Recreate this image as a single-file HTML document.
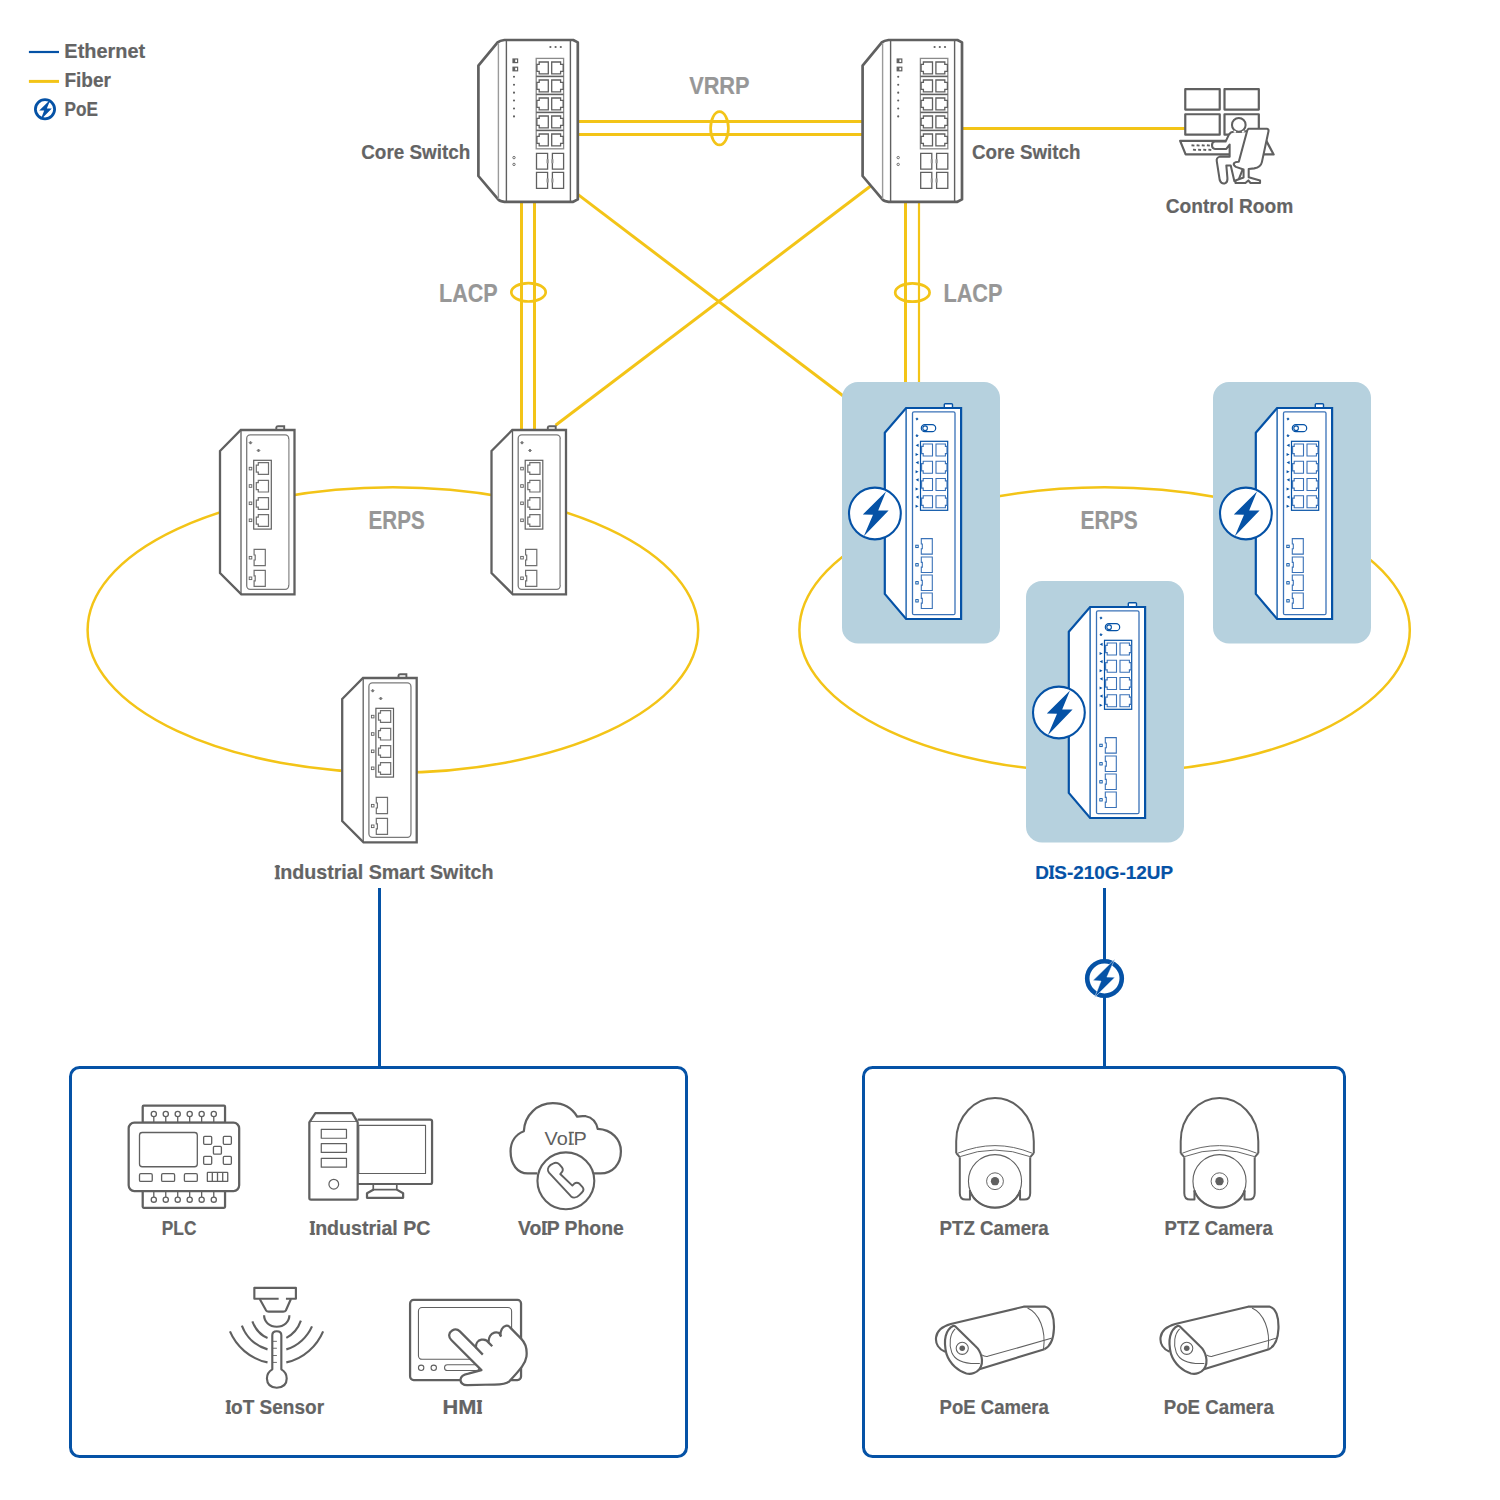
<!DOCTYPE html>
<html><head><meta charset="utf-8"><style>
html,body{margin:0;padding:0;background:#fff;}
svg{display:block;font-family:"Liberation Sans",sans-serif;}
</style></head><body>
<svg width="1500" height="1500" viewBox="0 0 1500 1500">
<rect width="1500" height="1500" fill="#fff"/>
<defs><g id="core"><path d="M0 25.6 L19.2 2.4 Q21.5 0.6 26 0 H94.8 L99.4 2.4 V159.4 L94.8 161.8 H26 Q21.5 161.2 20 159.6 L0 136 Z" fill="#fff" stroke="#606060" stroke-width="2.7" stroke-linejoin="round"/><path d="M20 3 V159" stroke="#9a9a9a" stroke-width="1.4" fill="none"/><path d="M28 0.5 V161.3 M92 0.5 V161.3" stroke="#606060" stroke-width="1.4" fill="none"/><circle cx="72" cy="7" r="1.1" fill="#606060"/><circle cx="77.2" cy="7" r="1.1" fill="#606060"/><circle cx="82.4" cy="7" r="1.1" fill="#606060"/><rect x="34.6" y="19.0" width="4.6" height="3.6" fill="#fff" stroke="#606060" stroke-width="1.2"/><rect x="34.6" y="19.0" width="2.2" height="3.6" fill="#606060"/><rect x="34.6" y="27.2" width="4.6" height="3.6" fill="#fff" stroke="#606060" stroke-width="1.2"/><rect x="34.6" y="27.2" width="2.2" height="3.6" fill="#606060"/><circle cx="35.6" cy="36.80" r="1.05" fill="#606060"/><circle cx="35.6" cy="44.72" r="1.05" fill="#606060"/><circle cx="35.6" cy="52.64" r="1.05" fill="#606060"/><circle cx="35.6" cy="60.56" r="1.05" fill="#606060"/><circle cx="35.6" cy="68.48" r="1.05" fill="#606060"/><circle cx="35.6" cy="76.40" r="1.05" fill="#606060"/><rect x="57.80000000000007" y="18.4" width="27.4" height="90.4" fill="none" stroke="#8a8a8a" stroke-width="1.3"/><path d="M60.80 22.00 H69.90 V33.80 H60.80 V31.44 H58.50 V24.36 H60.80 Z M82.20 22.00 H73.30 V33.80 H82.20 V31.44 H84.80 V24.36 H82.20 Z M60.80 40.00 H69.90 V51.80 H60.80 V49.44 H58.50 V42.36 H60.80 Z M82.20 40.00 H73.30 V51.80 H82.20 V49.44 H84.80 V42.36 H82.20 Z M60.80 58.00 H69.90 V69.80 H60.80 V67.44 H58.50 V60.36 H60.80 Z M82.20 58.00 H73.30 V69.80 H82.20 V67.44 H84.80 V60.36 H82.20 Z M60.80 76.00 H69.90 V87.80 H60.80 V85.44 H58.50 V78.36 H60.80 Z M82.20 76.00 H73.30 V87.80 H82.20 V85.44 H84.80 V78.36 H82.20 Z M60.80 94.00 H69.90 V105.80 H60.80 V103.44 H58.50 V96.36 H60.80 Z M82.20 94.00 H73.30 V105.80 H82.20 V103.44 H84.80 V96.36 H82.20 Z" fill="none" stroke="#606060" stroke-width="1.3"/><path d="M57.80000000000007 36.40 H85.20000000000005" stroke="#606060" stroke-width="1.6"/><path d="M57.80000000000007 54.40 H85.20000000000005" stroke="#606060" stroke-width="1.6"/><path d="M57.80000000000007 72.40 H85.20000000000005" stroke="#606060" stroke-width="1.6"/><path d="M57.80000000000007 90.40 H85.20000000000005" stroke="#606060" stroke-width="1.6"/><path d="M58.10000000000002 113.4 H69.20000000000005 V129.2 H58.10000000000002 Z M74.0 113.4 H85.20000000000005 V129.2 H74.0 Z M58.10000000000002 132.4 H69.20000000000005 V148.4 H58.10000000000002 Z M74.0 132.4 H85.20000000000005 V148.4 H74.0 Z" fill="none" stroke="#606060" stroke-width="1.3"/><path d="M69.20000000000005 119.30 V123.30 M74.0 119.30 V123.30" stroke="#999" stroke-width="2.2"/><path d="M69.20000000000005 138.40 V142.40 M74.0 138.40 V142.40" stroke="#999" stroke-width="2.2"/><circle cx="35.6" cy="117.60" r="1.2" fill="none" stroke="#606060" stroke-width="0.9"/><circle cx="35.6" cy="124.40" r="1.2" fill="none" stroke="#606060" stroke-width="0.9"/></g><g id="small"><path d="M56.3 0 V-2.6 Q56.5 -3.8 58 -3.8 H64.2 V0" fill="#fff" stroke="#606060" stroke-width="1.9"/><path d="M0 21 L20.8 0 H74.5 V164.3 H21.3 L0 143 Z" fill="#fff" stroke="#606060" stroke-width="2.3" stroke-linejoin="miter"/><path d="M21 0.5 V164" stroke="#606060" stroke-width="1.3"/><rect x="26.7" y="4.9" width="42" height="154.4" rx="3.5" fill="none" stroke="#7a7a7a" stroke-width="1.3"/><path d="M68.7 9 V155" stroke="#aaa" stroke-width="1.3"/><path d="M29.0 12.7 L30.5 11.2 L32.0 12.7 L30.5 14.2 Z" fill="#777" stroke="#606060" stroke-width="0.6"/><path d="M37.0 20.5 L38.5 19.0 L40.0 20.5 L38.5 22.0 Z" fill="#777" stroke="#606060" stroke-width="0.6"/><rect x="33.7" y="30.3" width="17.6" height="68.8" fill="none" stroke="#606060" stroke-width="1.2"/><path d="M38.30 32.70 H48.50 V44.40 H38.30 V42.06 H36.30 V35.04 H38.30 Z M38.30 50.30 H48.50 V62.00 H38.30 V59.66 H36.30 V52.64 H38.30 Z M38.30 67.70 H48.50 V79.40 H38.30 V77.06 H36.30 V70.04 H38.30 Z M38.30 84.70 H48.50 V96.40 H38.30 V94.06 H36.30 V87.04 H38.30 Z" fill="none" stroke="#707070" stroke-width="1.2"/><rect x="29.2" y="37.3" width="2.6" height="2.6" fill="none" stroke="#606060" stroke-width="0.9"/><rect x="29.2" y="54.7" width="2.6" height="2.6" fill="none" stroke="#606060" stroke-width="0.9"/><rect x="29.2" y="72.0" width="2.6" height="2.6" fill="none" stroke="#606060" stroke-width="0.9"/><rect x="29.2" y="89.0" width="2.6" height="2.6" fill="none" stroke="#606060" stroke-width="0.9"/><rect x="29.2" y="126.4" width="2.6" height="2.6" fill="none" stroke="#606060" stroke-width="0.9"/><rect x="29.2" y="147.0" width="2.6" height="2.6" fill="none" stroke="#606060" stroke-width="0.9"/><path d="M34.1 119.3 H45.3 V135.7 H34.1 V130.0 H35.2 V125.0 H34.1 Z" fill="none" stroke="#707070" stroke-width="1.2"/><path d="M34.1 140.3 H45.3 V156.3 H34.1 V150.8 H35.2 V145.8 H34.1 Z" fill="none" stroke="#707070" stroke-width="1.2"/></g><g id="dis"><rect x="0" y="0" width="158" height="261.5" rx="16" fill="#b6d1de"/><path d="M102.3 26 V22.5 Q102.3 21.7 103.3 21.7 H109.5 Q110.5 21.7 110.5 22.5 V26" fill="#fff" stroke="#0552a6" stroke-width="1.4"/><path d="M42.8 50.8 L64.1 26 H119.1 V237 H64.1 L42.8 211.9 Z" fill="#fff" stroke="#0552a6" stroke-width="2.2"/><path d="M64.1 26 V237" stroke="#0552a6" stroke-width="1.3"/><rect x="70.5" y="29.8" width="42.5" height="202.9" rx="1.5" fill="none" stroke="#3a72b8" stroke-width="1.3"/><path d="M73.8 37 L75 35.8 L76.2 37 L75 38.2 Z" fill="#0552a6" stroke="#0552a6" stroke-width="0.6"/><path d="M73.8 53.7 L75 52.5 L76.2 53.7 L75 54.900000000000006 Z" fill="#0552a6" stroke="#0552a6" stroke-width="0.6"/><rect x="79.3" y="42.6" width="14.4" height="7.1" rx="3.55" fill="none" stroke="#0552a6" stroke-width="1.2"/><circle cx="83.1" cy="46.15" r="2.3" fill="none" stroke="#0552a6" stroke-width="1.1"/><rect x="78.5" y="59.3" width="27.2" height="69" fill="none" stroke="#0552a6" stroke-width="1.2"/><path d="M81.20 62.00 H90.50 V74.00 H81.20 V71.60 H79.60 V64.40 H81.20 Z M103.40 62.00 H94.00 V74.00 H103.40 V71.60 H105.00 V64.40 H103.40 Z M81.20 79.25 H90.50 V91.25 H81.20 V88.85 H79.60 V81.65 H81.20 Z M103.40 79.25 H94.00 V91.25 H103.40 V88.85 H105.00 V81.65 H103.40 Z M81.20 96.50 H90.50 V108.50 H81.20 V106.10 H79.60 V98.90 H81.20 Z M103.40 96.50 H94.00 V108.50 H103.40 V106.10 H105.00 V98.90 H103.40 Z M81.20 113.75 H90.50 V125.75 H81.20 V123.35 H79.60 V116.15 H81.20 Z M103.40 113.75 H94.00 V125.75 H103.40 V123.35 H105.00 V116.15 H103.40 Z" fill="none" stroke="#3a72b8" stroke-width="1.1"/><path d="M73.6 63.30 L76.6 61.70 V64.90 Z M76.6 72.50 L73.6 70.90 V74.10 Z" fill="#0552a6"/><path d="M73.6 80.55 L76.6 78.95 V82.15 Z M76.6 89.75 L73.6 88.15 V91.35 Z" fill="#0552a6"/><path d="M73.6 97.80 L76.6 96.20 V99.40 Z M76.6 107.00 L73.6 105.40 V108.60 Z" fill="#0552a6"/><path d="M73.6 115.05 L76.6 113.45 V116.65 Z M76.6 124.25 L73.6 122.65 V125.85 Z" fill="#0552a6"/><path d="M79.3 156.6 H90.3 V172.1 H79.3 V166.7 H80.3 V162.0 H79.3 Z" fill="none" stroke="#3a72b8" stroke-width="1.1"/><rect x="73.8" y="163.2" width="2.4" height="2.4" fill="none" stroke="#0552a6" stroke-width="0.9"/><path d="M79.3 175 H90.3 V190.5 H79.3 V185.1 H80.3 V180.4 H79.3 Z" fill="none" stroke="#3a72b8" stroke-width="1.1"/><rect x="73.8" y="181.6" width="2.4" height="2.4" fill="none" stroke="#0552a6" stroke-width="0.9"/><path d="M79.3 193 H90.3 V208.5 H79.3 V203.1 H80.3 V198.4 H79.3 Z" fill="none" stroke="#3a72b8" stroke-width="1.1"/><rect x="73.8" y="199.6" width="2.4" height="2.4" fill="none" stroke="#0552a6" stroke-width="0.9"/><path d="M79.3 211 H90.3 V226.5 H79.3 V221.1 H80.3 V216.4 H79.3 Z" fill="none" stroke="#3a72b8" stroke-width="1.1"/><rect x="73.8" y="217.6" width="2.4" height="2.4" fill="none" stroke="#0552a6" stroke-width="0.9"/><circle cx="32.9" cy="131.5" r="25.9" fill="#fff" stroke="#0552a6" stroke-width="2.1"/><path d="M44.00 109.60 L20.80 132.50 L31.00 132.80 L21.80 154.20 L46.60 128.40 L36.20 128.40 Z" fill="#0552a6"/></g></defs>
<path d="M28.9 52 H59" stroke="#0552a6" stroke-width="2.2"/>
<path d="M28.9 81.4 H59" stroke="#f3c417" stroke-width="3"/>
<circle cx="45" cy="109.2" r="9.6" fill="none" stroke="#0552a6" stroke-width="2.8"/>
<path d="M50.5 99.5 L39.2 110.5 L44.2 110.6 L40.5 120 L51.8 108.6 L46.8 108.5 Z" fill="#0552a6"/>
<text x="64.37" y="57.90" font-size="19.91" textLength="80.78" lengthAdjust="spacingAndGlyphs" fill="#646464" stroke="#646464" stroke-width="0.2" font-weight="bold">Ethernet</text>
<text x="64.43" y="86.80" font-size="19.91" textLength="46.56" lengthAdjust="spacingAndGlyphs" fill="#646464" stroke="#646464" stroke-width="0.2" font-weight="bold">Fiber</text>
<text x="64.55" y="115.70" font-size="19.48" textLength="33.42" lengthAdjust="spacingAndGlyphs" fill="#646464" stroke="#646464" stroke-width="0.2" font-weight="bold">PoE</text>
<g stroke="#f3c417" fill="none">
<path d="M578 121.5 H863 M578 134.5 H863" stroke-width="3"/>
<path d="M962 128.5 H1185" stroke-width="3"/>
<path d="M521.5 202 V430 M534.5 202 V430" stroke-width="3"/>
<path d="M905.5 202 V382" stroke-width="3"/><path d="M919 202 V382" stroke-width="2.2"/>
<path d="M577.8 194.4 L843.3 396" stroke-width="3"/>
<path d="M870.3 186.3 L555.6 425.3" stroke-width="3"/>
<ellipse cx="719.5" cy="128.3" rx="8.9" ry="16.6" stroke-width="2.7"/>
<ellipse cx="528.5" cy="292.3" rx="17.2" ry="9.2" stroke-width="2.7"/>
<ellipse cx="912.4" cy="292.5" rx="17.2" ry="9.2" stroke-width="2.7"/>
<ellipse cx="392.9" cy="630" rx="305.3" ry="142.7" stroke-width="2.5"/>
<ellipse cx="1104.6" cy="630" rx="305.2" ry="142.7" stroke-width="2.5"/>
</g>
<use href="#core" x="478.4" y="40"/>
<use href="#core" x="862.6" y="40"/>
<use href="#small" x="220" y="430"/>
<use href="#small" x="491.5" y="430"/>
<use href="#small" x="342.2" y="678"/>
<use href="#dis" x="842" y="382"/>
<use href="#dis" x="1213" y="382"/>
<use href="#dis" x="1026" y="581"/>
<text x="689.15" y="93.90" font-size="24.56" textLength="60.39" lengthAdjust="spacingAndGlyphs" fill="#979797" stroke="#979797" stroke-width="0.2" font-weight="bold">VRRP</text>
<text x="439.06" y="301.80" font-size="25.15" textLength="58.68" lengthAdjust="spacingAndGlyphs" fill="#979797" stroke="#979797" stroke-width="0.2" font-weight="bold">LACP</text>
<text x="943.45" y="301.70" font-size="24.86" textLength="59.09" lengthAdjust="spacingAndGlyphs" fill="#979797" stroke="#979797" stroke-width="0.2" font-weight="bold">LACP</text>
<text x="368.62" y="528.90" font-size="25.15" textLength="56.19" lengthAdjust="spacingAndGlyphs" fill="#979797" stroke="#979797" stroke-width="0.2" font-weight="bold">ERPS</text>
<text x="1080.60" y="528.90" font-size="25.15" textLength="57.12" lengthAdjust="spacingAndGlyphs" fill="#979797" stroke="#979797" stroke-width="0.2" font-weight="bold">ERPS</text>
<text x="361.23" y="159.10" font-size="20.49" textLength="109.15" lengthAdjust="spacingAndGlyphs" fill="#646464" stroke="#646464" stroke-width="0.2" font-weight="bold">Core Switch</text>
<text x="971.93" y="159.20" font-size="20.49" textLength="108.54" lengthAdjust="spacingAndGlyphs" fill="#646464" stroke="#646464" stroke-width="0.2" font-weight="bold">Core Switch</text>
<text x="1165.71" y="213.30" font-size="20.06" textLength="127.57" lengthAdjust="spacingAndGlyphs" fill="#646464" stroke="#646464" stroke-width="0.2" font-weight="bold">Control Room</text>
<path d="M274.72 865.70 H280.12 V867.46 H274.72 Z M274.72 877.45 H280.12 V879.20 H274.72 Z" fill="#646464"/>
<text x="274.68" y="879.20" font-size="19.62" textLength="218.74" lengthAdjust="spacingAndGlyphs" fill="#646464" stroke="#646464" stroke-width="0.2" font-weight="bold">Industrial Smart Switch</text>
<path d="M1049.01 865.60 H1054.25 V867.30 H1049.01 Z M1049.01 877.00 H1054.25 V878.70 H1049.01 Z" fill="#0552a6"/>
<text x="1035.33" y="878.70" font-size="19.04" textLength="137.81" lengthAdjust="spacingAndGlyphs" fill="#0552a6" stroke="#0552a6" stroke-width="0.2" font-weight="bold">DIS-210G-12UP</text>
<path d="M379.5 888 V1067 M1104.5 888 V1067" stroke="#0552a6" stroke-width="3"/>
<circle cx="1104.5" cy="978.5" r="17.3" fill="#fff" stroke="#0552a6" stroke-width="4.6"/>
<path d="M1114.90 958.90 L1092.90 980.60 L1101.00 981.10 L1094.60 997.40 L1115.00 977.30 L1106.90 977.10 Z" fill="#0552a6" stroke="#fff" stroke-width="0.5"/>
<rect x="70.5" y="1067.5" width="616" height="389" rx="9" fill="none" stroke="#0552a6" stroke-width="3"/>
<rect x="863.5" y="1067.5" width="481" height="389" rx="9" fill="none" stroke="#0552a6" stroke-width="3"/>
<g fill="none" stroke="#606060" stroke-linejoin="round" stroke-linecap="butt">
<!-- Control room: zoom 1175,80 scale 13.636 -->
<g transform="translate(1175 80) scale(0.07333)">
  <g stroke-width="30">
    <rect x="140" y="125" width="470" height="278"/>
    <rect x="675" y="125" width="468" height="278"/>
    <rect x="140" y="467" width="470" height="278"/>
    <rect x="675" y="467" width="468" height="278"/>
    <path d="M1240 820 L1345 1015 H1200" />
    <path d="M700 830 H70 L145 1015 H750" fill="#fff"/>
  </g>
  <path d="M225 890 L265 895 M295 890 L335 895 M365 890 L405 895 M435 890 L475 895 M245 950 L285 955 M315 950 L355 955 M385 950 L425 955 M455 950 L495 955" stroke-width="26"/>
  <!-- person -->
  <path d="M820 705 Q760 700 735 745 L690 840 H540 Q500 850 505 900 Q510 940 545 940 H700 L745 880 V1045 H610 Q560 1060 570 1110 L610 1365 Q630 1420 680 1410 Q720 1395 715 1340 L700 1165 H760 L810 1380 L860 1380 L950 1150 L1030 700 Q990 690 930 705 Z" fill="#fff" stroke-width="28"/>
  <circle cx="870" cy="612" r="93" fill="#fff" stroke-width="28"/>
  <path d="M800 700 L830 712 M945 700 L915 712" stroke="#fff" stroke-width="26"/>
  <!-- chair -->
  <path d="M1005 665 H1255 Q1280 670 1275 700 L1185 1120 Q1170 1190 1080 1205 L1005 1215 L1005 1325 L1160 1370 V1405 H1030 L1000 1370 L960 1405 H825 V1370 L935 1330 L935 1220 L830 1185 Q790 1160 805 1135 Q820 1115 870 1115 L985 690 Q990 670 1005 665 Z" fill="#fff" stroke-width="28"/>
</g>

<!-- PLC: 120,1100 scale 11.538 -->
<g transform="translate(120 1100) scale(0.08667)">
  <rect x="262" y="65" width="950" height="200" rx="12" stroke-width="26"/>
  <rect x="262" y="1045" width="950" height="200" rx="12" stroke-width="26"/>
  <rect x="100" y="262" width="1275" height="788" rx="65" fill="#fff" stroke-width="26"/>
  <g stroke-width="15">
    <path d="M390 192 V262 M528 192 V262 M666 192 V262 M804 192 V262 M942 192 V262 M1082 192 V262 M390 1050 V1120 M528 1050 V1120 M666 1050 V1120 M804 1050 V1120 M942 1050 V1120 M1082 1050 V1120"/>
    <circle cx="390" cy="162" r="30"/><circle cx="528" cy="162" r="30"/><circle cx="666" cy="162" r="30"/><circle cx="804" cy="162" r="30"/><circle cx="942" cy="162" r="30"/><circle cx="1082" cy="162" r="30"/>
    <circle cx="390" cy="1150" r="30"/><circle cx="528" cy="1150" r="30"/><circle cx="666" cy="1150" r="30"/><circle cx="804" cy="1150" r="30"/><circle cx="942" cy="1150" r="30"/><circle cx="1082" cy="1150" r="30"/>
    <rect x="225" y="375" width="667" height="395" rx="32"/>
    <rect x="965" y="420" width="93" height="92" rx="12"/>
    <rect x="1192" y="420" width="93" height="92" rx="12"/>
    <rect x="1078" y="535" width="92" height="90" rx="12"/>
    <rect x="965" y="650" width="93" height="92" rx="12"/>
    <rect x="1192" y="650" width="93" height="92" rx="12"/>
    <rect x="225" y="850" width="147" height="90" rx="15"/>
    <rect x="480" y="850" width="150" height="90" rx="15"/>
    <rect x="743" y="850" width="149" height="90" rx="15"/>
    <rect x="1008" y="835" width="235" height="105" rx="6"/>
    <path d="M1065 835 V940 M1125 835 V940 M1185 835 V940"/>
  </g>
</g>

<!-- Industrial PC: 300,1100 scale 10.714 -->
<g transform="translate(300 1100) scale(0.09333)">
  <path d="M618 210 H1395 Q1415 210 1415 230 V880 Q1415 900 1395 900 H618" stroke-width="24"/>
  <rect x="630" y="272" width="715" height="515" stroke-width="12"/>
  <path d="M785 900 V960 H1037 V900" stroke-width="18"/>
  <path d="M790 960 L718 1000 V1048 H1105 V1000 L1037 960" stroke-width="24"/>
  <path d="M100 240 L165 140 H560 L618 240 V1050 Q618 1068 600 1068 H118 Q100 1068 100 1050 Z" fill="#fff" stroke-width="24"/>
  <path d="M115 230 H605" stroke-width="10"/>
  <g stroke-width="13">
    <rect x="228" y="315" width="270" height="95"/>
    <rect x="228" y="467" width="270" height="95"/>
    <rect x="228" y="625" width="270" height="95"/>
    <circle cx="362" cy="902" r="52"/>
  </g>
</g>

<!-- VoIP: 500,1095 scale 11.538 -->
<g transform="translate(500 1095) scale(0.08667)">
  <path d="M430 905 H320 C200 905 122 800 122 650 C122 540 180 455 275 418 C285 230 430 95 610 95 C730 95 830 150 890 250 C920 243 950 240 990 245 C1060 258 1110 310 1128 392 C1290 400 1395 510 1395 650 C1395 800 1300 905 1160 905 H1085" stroke-width="26"/>
  <circle cx="760" cy="990" r="328" stroke-width="24"/>
  <path d="M565 895 C545 870 550 835 580 810 L615 790 C640 775 665 780 685 800 L715 835 C730 855 725 880 705 900 L695 912 L835 1045 L855 1025 C875 1008 900 1010 918 1025 L950 1060 C968 1080 965 1105 945 1125 L915 1155 C885 1185 845 1190 820 1170 Z" stroke-width="22"/>
  <text x="515" y="575" font-size="220" fill="#606060" stroke="none" font-family="Liberation Sans" textLength="485" lengthAdjust="spacingAndGlyphs">VoIP</text>
  <path d="M793 424 H853 V440 H793 Z M793 559 H853 V575 H793 Z" fill="#606060" stroke="none"/>
</g>

<!-- IoT sensor: 220,1280 scale 13.04 -->
<g transform="translate(220 1280) scale(0.07667)">
  <path d="M765 245 H448 V102 H990 V245 H860" stroke-width="28"/>
  <path d="M518 248 L600 395 Q612 412 635 412 H825 Q848 412 860 395 L925 248" stroke-width="28"/>
  <path d="M575 460 C575 545 645 610 740 610 C835 610 905 545 905 460" stroke-width="28"/>
  <path d="M422 540 C460 640 530 720 620 755" stroke-width="28"/>
  <path d="M285 595 C340 740 460 860 620 905" stroke-width="28"/>
  <path d="M130 670 C210 860 390 1030 620 1075" stroke-width="28"/>
  <path d="M1055 530 C1020 630 950 710 865 755" stroke-width="28"/>
  <path d="M1200 605 C1140 740 1020 860 865 905" stroke-width="28"/>
  <path d="M1345 670 C1265 860 1090 1030 865 1075" stroke-width="28"/>
  <path d="M682 1165 V720 Q682 668 740 668 Q800 668 800 720 V1165 Q870 1205 870 1285 Q870 1400 740 1405 Q615 1400 612 1285 Q612 1205 682 1165 Z" stroke-width="28"/>
  <path d="M690 800 H742 M690 890 H742 M690 985 H742 M690 1075 H742" stroke-width="12"/>
</g>

<!-- HMI: 400,1290 scale 11.11 -->
<g transform="translate(400 1290) scale(0.09)">
  <rect x="112" y="110" width="1233" height="890" rx="40" stroke-width="25"/>
  <g stroke-width="12">
    <rect x="205" y="195" width="1035" height="575" rx="40"/>
    <circle cx="235" cy="865" r="30"/><circle cx="375" cy="865" r="30"/>
    <rect x="495" y="830" width="385" height="65" rx="32"/>
  </g>
  <path d="M905 890 L570 555 C535 520 540 475 580 450 C615 428 645 440 665 460 L845 640 C840 595 865 560 905 552 C945 545 972 560 985 585 C982 530 1008 485 1048 473 C1085 463 1110 480 1115 502 C1115 450 1140 405 1175 398 C1200 393 1215 405 1225 418 L1345 540 C1400 595 1415 655 1405 740 C1395 810 1350 870 1215 1015 C1180 1045 1140 1050 1050 1050 L750 1058 C700 1060 670 1030 672 995 C675 960 705 940 760 930 Z" fill="#fff" stroke-width="25"/>
  <path d="M845 640 L920 718 M985 585 L1025 625 M1110 492 L1125 518" stroke-width="25"/>
</g>

<!-- PTZ camera -->
<g id="ptz" transform="translate(945 1090) scale(0.08)">
  <path d="M140 790 V640 C140 320 380 100 625 100 C870 100 1110 320 1110 640 V790" stroke-width="25"/>
  <path d="M160 790 Q625 600 1090 790 M190 832 Q625 670 1060 832" stroke-width="12"/>
  <path d="M140 790 L185 840 M1110 790 L1065 840" stroke-width="25"/>
  <path d="M185 840 V1290 Q185 1370 260 1370 H312 V1250 M1065 840 V1290 Q1065 1370 990 1370 H938 V1250" stroke-width="25"/>
  <circle cx="625" cy="1140" r="332" stroke-width="14"/>
  <path d="M310 1260 C360 1390 480 1470 625 1470 C770 1470 890 1390 940 1260" stroke-width="26"/>
  <circle cx="625" cy="1140" r="105" stroke-width="12"/>
  <circle cx="625" cy="1140" r="52" fill="#606060" stroke="none"/>
</g>
<use href="#ptz" x="224.5" y="0"/>

<!-- Bullet camera -->
<g id="bullet" transform="translate(930 1295) scale(0.08667)">
  <path d="M175 655 C100 625 62 560 70 490 C80 410 150 360 240 335 L1080 135 H1330 C1400 150 1435 250 1430 390 C1425 510 1395 590 1320 625" stroke-width="25"/>
  <path d="M1320 625 L560 860" stroke-width="25"/>
  <path d="M270 355 C180 400 150 520 190 680 C230 800 330 880 420 905 C480 920 540 895 570 855 C600 815 605 760 595 715 C585 665 560 620 520 585 L290 360 Z" fill="#fff" stroke-width="25"/>
  <path d="M290 390 C230 450 215 560 250 660 C290 760 400 800 575 790" stroke-width="12"/>
  <path d="M600 690 Q625 712 665 708 L1400 500" stroke-width="12"/>
  <path d="M1125 150 C1260 210 1340 400 1310 625" stroke-width="12"/>
  <circle cx="372" cy="615" r="70" stroke-width="12"/>
  <circle cx="372" cy="615" r="32" fill="#606060" stroke="none"/>
</g>
<use href="#bullet" x="224.5" y="0"/>
</g>

<text x="161.84" y="1234.80" font-size="19.62" textLength="34.63" lengthAdjust="spacingAndGlyphs" fill="#646464" stroke="#646464" stroke-width="0.2" font-weight="bold">PLC</text>
<path d="M309.73 1221.30 H315.09 V1223.04 H309.73 Z M309.73 1232.96 H315.09 V1234.70 H309.73 Z" fill="#646464"/>
<text x="309.69" y="1234.70" font-size="19.48" textLength="120.74" lengthAdjust="spacingAndGlyphs" fill="#646464" stroke="#646464" stroke-width="0.2" font-weight="bold">Industrial PC</text>
<path d="M542.24 1221.30 H547.64 V1223.06 H542.24 Z M542.24 1233.04 H547.64 V1234.80 H542.24 Z" fill="#646464"/>
<text x="517.97" y="1234.80" font-size="19.62" textLength="105.78" lengthAdjust="spacingAndGlyphs" fill="#646464" stroke="#646464" stroke-width="0.2" font-weight="bold">VoIP Phone</text>
<path d="M225.71 1400.50 H231.03 V1402.23 H225.71 Z M225.71 1412.07 H231.03 V1413.80 H225.71 Z" fill="#646464"/>
<text x="225.73" y="1413.80" font-size="19.33" textLength="98.36" lengthAdjust="spacingAndGlyphs" fill="#646464" stroke="#646464" stroke-width="0.2" font-weight="bold">IoT Sensor</text>
<path d="M476.73 1400.30 H482.13 V1402.06 H476.73 Z M476.73 1412.04 H482.13 V1413.80 H476.73 Z" fill="#646464"/>
<text x="442.54" y="1413.80" font-size="19.62" textLength="39.91" lengthAdjust="spacingAndGlyphs" fill="#646464" stroke="#646464" stroke-width="0.2" font-weight="bold">HMI</text>
<text x="939.55" y="1234.90" font-size="19.62" textLength="109.23" lengthAdjust="spacingAndGlyphs" fill="#646464" stroke="#646464" stroke-width="0.2" font-weight="bold">PTZ Camera</text>
<text x="1164.56" y="1234.90" font-size="19.62" textLength="108.32" lengthAdjust="spacingAndGlyphs" fill="#646464" stroke="#646464" stroke-width="0.2" font-weight="bold">PTZ Camera</text>
<text x="939.56" y="1413.80" font-size="19.33" textLength="109.22" lengthAdjust="spacingAndGlyphs" fill="#646464" stroke="#646464" stroke-width="0.2" font-weight="bold">PoE Camera</text>
<text x="1163.75" y="1413.80" font-size="19.33" textLength="110.03" lengthAdjust="spacingAndGlyphs" fill="#646464" stroke="#646464" stroke-width="0.2" font-weight="bold">PoE Camera</text>
</svg>
</body></html>
